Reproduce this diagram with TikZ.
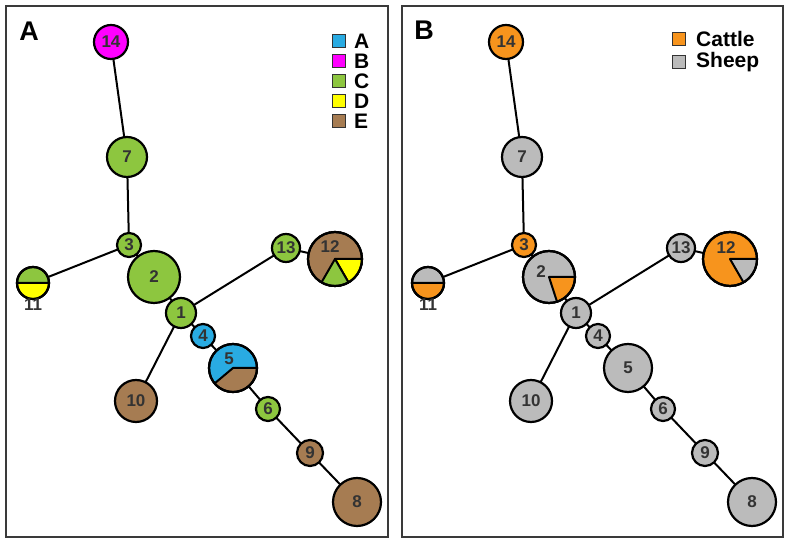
\documentclass[tikz,border=0pt]{standalone}
\usepackage{fontspec}
\setmainfont{Liberation Sans}
\definecolor{cA}{HTML}{29ABE2}
\definecolor{cB}{HTML}{FF00FF}
\definecolor{cC}{HTML}{8DC63F}
\definecolor{cD}{HTML}{FFFF00}
\definecolor{cE}{HTML}{A67C52}
\definecolor{cattle}{HTML}{F7941D}
\definecolor{sheep}{HTML}{BBBBBB}
\definecolor{txt}{HTML}{333333}
\definecolor{frm}{HTML}{3A3A3A}
\tikzset{
  hap/.style={circle, draw=black, line width=2.2pt, inner sep=0pt, font=\bfseries\fontsize{17}{17}\selectfont, text=txt},
  numtxt/.style={font=\bfseries\fontsize{17}{17}\selectfont, text=txt, inner sep=0pt},
  edge/.style={line width=2pt, black},
  frame/.style={draw=frm, line width=2.4pt},
  legbox/.style={draw=black!80, line width=1pt, minimum size=13pt, inner sep=0pt},
  legtxt/.style={font=\bfseries\fontsize{21}{21}\selectfont, anchor=west, inner sep=0pt},
  panel/.style={font=\bfseries\fontsize{27}{27}\selectfont, inner sep=0pt}
}
\newcommand\hapnode[6]{\node[hap, minimum size={#4*2pt}, fill=#5] (#1) at (#2,#3) {#6};}
\newcommand\pwedge[5]{\filldraw[fill=#5, draw=black, line width=2pt, line join=round] (#1.center) -- ++(#3:#2pt) arc[start angle=#3, end angle=#4, radius=#2pt] -- cycle;}
\newcommand\ring[2]{\draw[line width=2.2pt] (#1.center) circle[radius=#2pt];}
\begin{document}
\begin{tikzpicture}[x=1pt,y=1pt]
\useasboundingbox (0,0) rectangle (790,543);
\fill[white] (0,0) rectangle (790,543);
% frames
\draw[frame] (6,6) rectangle (388,537);
\draw[frame] (402,6) rectangle (783,537);
\node[panel] (pA) at (29,512) {A};
\node[panel] (pB) at (424,513) {B};

% ===== Panel A coordinates
\coordinate (a14) at (111,501);
\coordinate (a7) at (127,386);
\coordinate (a3) at (129,298);
\coordinate (a2) at (154,266);
\coordinate (a11) at (33,260);
\coordinate (a1) at (181,230);
\coordinate (a13) at (286,295);
\coordinate (a12) at (335,284);
\coordinate (a4) at (203,207);
\coordinate (a5) at (233,175);
\coordinate (a10) at (136,142);
\coordinate (a6) at (268,134);
\coordinate (a9) at (310,90);
\coordinate (a8) at (357,41);
\foreach \u/\v in {14/7,7/3,3/11,3/2,2/1,1/13,13/12,1/4,4/5,5/6,6/9,9/8,1/10}
  \draw[edge] (a\u) -- (a\v);

\hapnode{A14}{111}{501}{17}{cB}{14}
\hapnode{A7}{127}{386}{20}{cC}{7}
\hapnode{A3}{129}{298}{12}{cC}{3}
\hapnode{A2}{154}{266}{26}{cC}{2}
\hapnode{A11}{33}{260}{16}{cC}{}
\pwedge{A11}{16}{180}{360}{cD}
\ring{A11}{16}
\node[numtxt] (A11t) at (33,238) {11};
\hapnode{A1}{181}{230}{15}{cC}{1}
\hapnode{A13}{286}{295}{14}{cC}{13}
\hapnode{A12}{335}{284}{27}{cE}{}
\pwedge{A12}{27}{-60}{0}{cD}
\pwedge{A12}{27}{-120}{-60}{cC}
\ring{A12}{27}
\node[numtxt] (A12t) at (330,296) {12};
\hapnode{A4}{203}{207}{12}{cA}{4}
\hapnode{A5}{233}{175}{24}{cA}{}
\pwedge{A5}{24}{-140}{0}{cE}
\ring{A5}{24}
\node[numtxt] (A5t) at (229,184) {5};
\hapnode{A10}{136}{142}{21}{cE}{10}
\hapnode{A6}{268}{134}{12}{cC}{6}
\hapnode{A9}{310}{90}{13}{cE}{9}
\hapnode{A8}{357}{41}{24}{cE}{8}

% legend A
\foreach \c/\l/\y in {cA/A/502,cB/B/482,cC/C/462,cD/D/442,cE/E/422}{
  \node[legbox, fill=\c] (LA\l) at (339,\y) {};
  \node[legtxt] (LAt\l) at (354,\y) {\l};
}

% ===== Panel B coordinates
\coordinate (b14) at (506,501);
\coordinate (b7) at (522,386);
\coordinate (b3) at (524,298);
\coordinate (b2) at (549,266);
\coordinate (b11) at (428,260);
\coordinate (b1) at (576,230);
\coordinate (b13) at (681,295);
\coordinate (b12) at (730,284);
\coordinate (b4) at (598,207);
\coordinate (b5) at (628,175);
\coordinate (b10) at (531,142);
\coordinate (b6) at (663,134);
\coordinate (b9) at (705,90);
\coordinate (b8) at (752,41);
\foreach \u/\v in {14/7,7/3,3/11,3/2,2/1,1/13,13/12,1/4,4/5,5/6,6/9,9/8,1/10}
  \draw[edge] (b\u) -- (b\v);

\hapnode{B14}{506}{501}{17}{cattle}{14}
\hapnode{B7}{522}{386}{20}{sheep}{7}
\hapnode{B3}{524}{298}{12}{cattle}{3}
\hapnode{B2}{549}{266}{26}{sheep}{}
\pwedge{B2}{26}{-72}{0}{cattle}
\ring{B2}{26}
\node[numtxt] (B2t) at (541,271) {2};
\hapnode{B11}{428}{260}{16}{sheep}{}
\pwedge{B11}{16}{180}{360}{cattle}
\ring{B11}{16}
\node[numtxt] (B11t) at (428,238) {11};
\hapnode{B1}{576}{230}{15}{sheep}{1}
\hapnode{B13}{681}{295}{14}{sheep}{13}
\hapnode{B12}{730}{284}{27}{cattle}{}
\pwedge{B12}{27}{-60}{0}{sheep}
\ring{B12}{27}
\node[numtxt] (B12t) at (726,295) {12};
\hapnode{B4}{598}{207}{12}{sheep}{4}
\hapnode{B5}{628}{175}{24}{sheep}{5}
\hapnode{B10}{531}{142}{21}{sheep}{10}
\hapnode{B6}{663}{134}{12}{sheep}{6}
\hapnode{B9}{705}{90}{13}{sheep}{9}
\hapnode{B8}{752}{41}{24}{sheep}{8}

% legend B
\node[legbox, fill=cattle] (LB1) at (679,504) {};
\node[legtxt] (LBt1) at (696,504) {Cattle};
\node[legbox, fill=sheep] (LB2) at (679,481) {};
\node[legtxt] (LBt2) at (696,481) {Sheep};
\end{tikzpicture}
\end{document}
